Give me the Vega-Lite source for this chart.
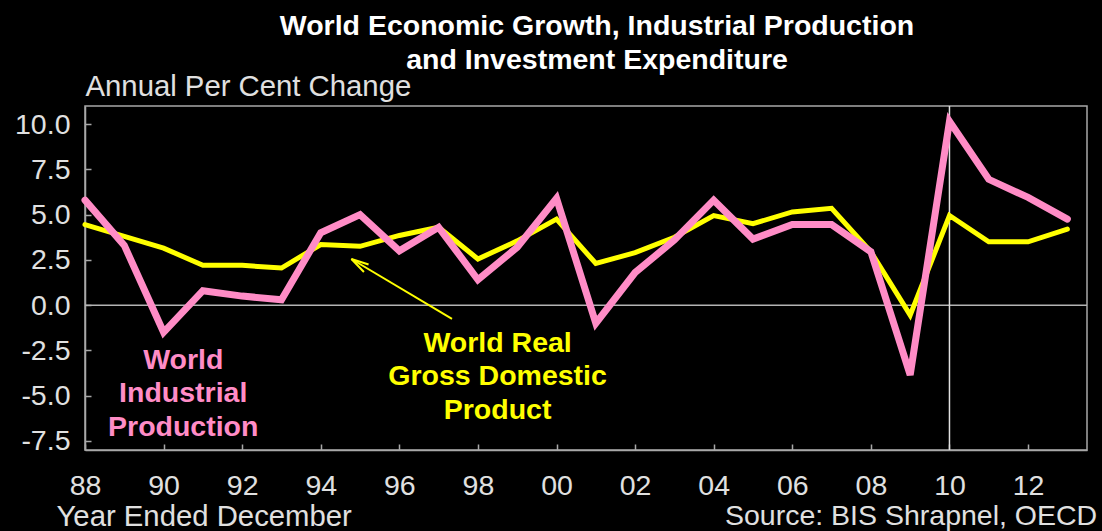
{
  "$schema": "https://vega.github.io/schema/vega-lite/v6.json",
  "width": 1002,
  "height": 344,
  "autosize": {"type": "none"},
  "padding": {"left": 85, "top": 106, "right": 15, "bottom": 81},
  "background": "#000000",
  "config": {
    "font": "Liberation Sans",
    "view": {"stroke": "#a8a8a8", "strokeWidth": 1.5},
    "axis": {
      "grid": false,
      "labelColor": "#e0e0e0",
      "labelFont": "Liberation Sans",
      "labelFontSize": 28.5,
      "domainColor": "#a8a8a8",
      "domainWidth": 1.5,
      "tickColor": "#a8a8a8",
      "tickWidth": 1.5,
      "titleColor": "#e0e0e0",
      "titleFont": "Liberation Sans",
      "titleFontSize": 29.3,
      "titleFontWeight": "normal"
    }
  },
  "title": {
    "text": ["World Economic Growth, Industrial Production", "and Investment Expenditure"],
    "fontSize": 28.5,
    "fontWeight": "bold",
    "color": "#ffffff",
    "font": "Liberation Sans",
    "anchor": "middle",
    "lineHeight": 34,
    "offset": -2,
    "dx": 11
  },
  "datasets": {
    "series": [
      {"year": 1988, "series": "IP", "value": 5.8},
      {"year": 1989, "series": "IP", "value": 3.3},
      {"year": 1990, "series": "IP", "value": -1.5},
      {"year": 1991, "series": "IP", "value": 0.8},
      {"year": 1992, "series": "IP", "value": 0.5},
      {"year": 1993, "series": "IP", "value": 0.3},
      {"year": 1994, "series": "IP", "value": 4.0},
      {"year": 1995, "series": "IP", "value": 5.0},
      {"year": 1996, "series": "IP", "value": 3.0},
      {"year": 1997, "series": "IP", "value": 4.3},
      {"year": 1998, "series": "IP", "value": 1.4},
      {"year": 1999, "series": "IP", "value": 3.2},
      {"year": 2000, "series": "IP", "value": 5.9},
      {"year": 2001, "series": "IP", "value": -1.0},
      {"year": 2002, "series": "IP", "value": 1.8},
      {"year": 2003, "series": "IP", "value": 3.6},
      {"year": 2004, "series": "IP", "value": 5.8},
      {"year": 2005, "series": "IP", "value": 3.65},
      {"year": 2006, "series": "IP", "value": 4.45},
      {"year": 2007, "series": "IP", "value": 4.45},
      {"year": 2008, "series": "IP", "value": 2.95},
      {"year": 2009, "series": "IP", "value": -3.85},
      {"year": 2010, "series": "IP", "value": 10.15},
      {"year": 2011, "series": "IP", "value": 6.95},
      {"year": 2012, "series": "IP", "value": 5.95},
      {"year": 2013, "series": "IP", "value": 4.75},
      {"year": 1988, "series": "GDP", "value": 4.45},
      {"year": 1989, "series": "GDP", "value": 3.8},
      {"year": 1990, "series": "GDP", "value": 3.15},
      {"year": 1991, "series": "GDP", "value": 2.2},
      {"year": 1992, "series": "GDP", "value": 2.2},
      {"year": 1993, "series": "GDP", "value": 2.05},
      {"year": 1994, "series": "GDP", "value": 3.35},
      {"year": 1995, "series": "GDP", "value": 3.25},
      {"year": 1996, "series": "GDP", "value": 3.85},
      {"year": 1997, "series": "GDP", "value": 4.3},
      {"year": 1998, "series": "GDP", "value": 2.55},
      {"year": 1999, "series": "GDP", "value": 3.55},
      {"year": 2000, "series": "GDP", "value": 4.75},
      {"year": 2001, "series": "GDP", "value": 2.3},
      {"year": 2002, "series": "GDP", "value": 2.9},
      {"year": 2003, "series": "GDP", "value": 3.75},
      {"year": 2004, "series": "GDP", "value": 4.95},
      {"year": 2005, "series": "GDP", "value": 4.5},
      {"year": 2006, "series": "GDP", "value": 5.15},
      {"year": 2007, "series": "GDP", "value": 5.35},
      {"year": 2008, "series": "GDP", "value": 2.95},
      {"year": 2009, "series": "GDP", "value": -0.55},
      {"year": 2010, "series": "GDP", "value": 4.95},
      {"year": 2011, "series": "GDP", "value": 3.5},
      {"year": 2012, "series": "GDP", "value": 3.5},
      {"year": 2013, "series": "GDP", "value": 4.2}
    ],
    "notes": [
      {"year": 1990.5, "value": -2.25, "series": "IP", "label": "World\nIndustrial\nProduction"},
      {"year": 1998.5, "value": -1.31, "series": "GDP", "label": "World Real\nGross Domestic\nProduct"}
    ],
    "arrow": [
      {"year": 1994.78, "value": 2.55, "year2": 1997.34, "value2": -0.76}
    ],
    "source": [
      {"year": 2013.76, "value": -11.64, "label": "Source: BIS Shrapnel, OECD"}
    ]
  },
  "encoding": {
    "x": {
      "field": "year",
      "type": "quantitative",
      "scale": {"domain": [1988, 2013.5], "nice": false, "zero": false},
      "axis": {
        "values": [1988, 1990, 1992, 1994, 1996, 1998, 2000, 2002, 2004, 2006, 2008, 2010, 2012],
        "labelExpr": "slice('0' + toString(datum.value % 100), -2)",
        "tickSize": -6,
        "labelPadding": 27,
        "labelFlush": false,
        "labelOverlap": false,
        "title": "Year Ended December",
        "titleX": -29,
        "titleY": 66,
        "titleAlign": "left",
        "titleBaseline": "middle",
        "titleAnchor": "start"
      }
    },
    "y": {
      "field": "value",
      "type": "quantitative",
      "scale": {"domain": [-8, 11], "nice": false, "zero": false},
      "axis": {
        "values": [-7.5, -5, -2.5, 0, 2.5, 5, 7.5, 10],
        "labelExpr": "replace(format(datum.value, '.1f'), '\u2212', '-')",
        "tickSize": -6,
        "labelPadding": 21,
        "labelFlush": false,
        "labelOverlap": false,
        "title": "Annual Per Cent Change",
        "titleAngle": 0,
        "titleX": 0,
        "titleY": -20,
        "titleAlign": "left",
        "titleBaseline": "middle"
      }
    }
  },
  "layer": [
    {
      "mark": {"type": "rule", "color": "#b4b4b4", "strokeWidth": 1.5},
      "encoding": {
        "y": {"datum": 0, "type": "quantitative", "scale": {"domain": [-8, 11], "nice": false, "zero": false}},
        "x": null
      }
    },
    {
      "mark": {"type": "rule", "color": "#e0e0e0", "strokeWidth": 1.5},
      "encoding": {
        "x": {"datum": 2010, "type": "quantitative", "scale": {"domain": [1988, 2013.5], "nice": false, "zero": false}},
        "y": null
      }
    },
    {
      "data": {"name": "series"},
      "transform": [{"filter": "datum.series === 'GDP'"}],
      "mark": {"type": "line", "color": "#ffff00", "strokeWidth": 5, "strokeCap": "round"}
    },
    {
      "data": {"name": "series"},
      "transform": [{"filter": "datum.series === 'IP'"}],
      "mark": {"type": "line", "color": "#ff8cc6", "strokeWidth": 7, "strokeCap": "round"}
    },
    {
      "data": {"name": "notes"},
      "transform": [{"filter": "datum.series === 'IP'"}],
      "mark": {"type": "text", "color": "#ff8cc6", "fontSize": 28.5, "fontWeight": "bold", "align": "center", "baseline": "top", "lineBreak": "\n", "lineHeight": 33.5},
      "encoding": {"text": {"field": "label"}}
    },
    {
      "data": {"name": "notes"},
      "transform": [{"filter": "datum.series === 'GDP'"}],
      "mark": {"type": "text", "color": "#ffff00", "fontSize": 28.5, "fontWeight": "bold", "align": "center", "baseline": "top", "lineBreak": "\n", "lineHeight": 33.5},
      "encoding": {"text": {"field": "label"}}
    },
    {
      "data": {"name": "arrow"},
      "mark": {"type": "rule", "color": "#ffff00", "strokeWidth": 2},
      "encoding": {
        "x2": {"field": "year2"},
        "y2": {"field": "value2"}
      }
    },
    {
      "data": {"name": "arrow"},
      "mark": {"type": "point", "shape": "M1,-0.25L0,0L1,0.25", "angle": 32, "size": 1225, "filled": false, "color": "#ffff00", "strokeWidth": 2, "opacity": 1}
    },
    {
      "data": {"name": "source"},
      "mark": {"type": "text", "color": "#e0e0e0", "fontSize": 28.5, "align": "right", "baseline": "middle"},
      "encoding": {"text": {"field": "label"}}
    }
  ]
}
